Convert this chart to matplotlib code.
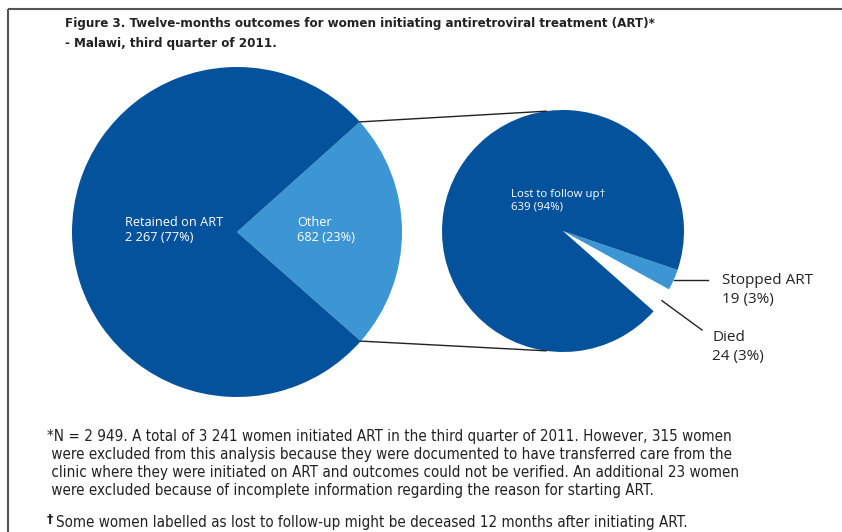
import numpy as np
import matplotlib.pyplot as plt
from matplotlib import font_manager

# data
main_labels = ["Other", "Retained on ART"]
main_values = [682, 2267]
main_text = ["Other\n682 (23%)", "Retained on ART\n2 267 (77%)"]

sub_labels = ["Died", "Stopped ART", "Lost to follow up"]
sub_values = [24, 19, 639]
sub_text = ["Died\n24 (3%)", "Stopped ART\n19 (3%)", "Lost to follow up\u2020\n639 (94%)"]

title = ["Figure 3. Twelve-months outcomes for women initiating antiretroviral treatment (ART)*",
         "- Malawi, third quarter of 2011."]
notes = ["*N = 2 949. A total of 3 241 women initiated ART in the third quarter of 2011. However, 315 women",
         " were excluded from this analysis because they were documented to have transferred care from the",
         " clinic where they were initiated on ART and outcomes could not be verified. An additional 23 women",
         " were excluded because of incomplete information regarding the reason for starting ART."]
dagger_note = "Some women labelled as lost to follow-up might be deceased 12 months after initiating ART."

dark = "#04529b"
light = "#3b96d3"

names = {f.name for f in font_manager.fontManager.ttflist}
narrow = "Liberation Sans Narrow" if "Liberation Sans Narrow" in names else "DejaVu Sans"
plain = "Open Sans" if "Open Sans" in names else "DejaVu Sans"

W, H = 842, 532
fig = plt.figure(figsize=(W / 100, H / 100), dpi=100)
ax = fig.add_axes([0, 0, 1, 1])
renderer = fig.canvas.get_renderer()


def fit(t, width):
    # shrink/grow a text so that it spans the given pixel width
    w = t.get_window_extent(renderer).width
    t.set_fontsize(t.get_fontsize() * width / w)


# left pie (pixel coords, y up)
c1 = (237, H - 232)
r1 = 165
w1, _ = ax.pie(main_values, colors=[light, dark], startangle=-41.4,
               center=c1, radius=r1, wedgeprops=dict(linewidth=0))

# right pie
c2 = (563, H - 231)
r2 = 121
w2, _ = ax.pie(sub_values, colors=["white", light, dark], startangle=-41.5,
               center=c2, radius=r2, wedgeprops=dict(linewidth=0))

ax.set_xlim(0, W)
ax.set_ylim(0, H)
ax.set_aspect("equal")
ax.axis("off")

# connecting lines from the "Other" wedge to the second pie
for th1, th2 in [(w1[0].theta2, 98), (w1[0].theta1, -98)]:
    x0 = c1[0] + r1 * np.cos(np.radians(th1))
    y0 = c1[1] + r1 * np.sin(np.radians(th1))
    x1 = c2[0] + r2 * np.cos(np.radians(th2))
    y1 = c2[1] + r2 * np.sin(np.radians(th2))
    ax.plot([x0, x1], [y0, y1], color="#222222", lw=1)

# labels inside pies
ax.text(125, H - 230, main_text[1], color="white", fontsize=9.2, family=plain,
        va="center", ha="left", linespacing=1.25)
ax.text(297, H - 230, main_text[0], color="white", fontsize=9.2, family=plain,
        va="center", ha="left", linespacing=1.25)
ax.text(511, H - 201, sub_text[2], color="white", fontsize=8.2, family=plain,
        va="center", ha="left", linespacing=1.2)


# leader lines for small slices
def edge(w, r=r2, c=c2):
    m = np.radians((w.theta1 + w.theta2) / 2)
    return c[0] + r * np.cos(m), c[1] + r * np.sin(m)


sx, sy = edge(w2[1])
ax.plot([sx, 708], [sy, sy], color="#222222", lw=1)
ax.text(722, H - 290, sub_text[1], color="#222222", fontsize=11, family=plain,
        va="center", ha="left", linespacing=1.35)

dx, dy = edge(w2[0])
ax.plot([dx, 702], [dy, H - 330], color="#222222", lw=1)
ax.text(712, H - 347, sub_text[0], color="#222222", fontsize=11, family=plain,
        va="center", ha="left", linespacing=1.35)

# title
t = ax.text(65, H - 23, title[0], fontsize=10.5, fontweight="bold", family=narrow,
            fontstretch="condensed", va="center", color="#222222")
fit(t, 595)
ax.text(65, H - 43, title[1], fontsize=t.get_fontsize(), fontweight="bold", family=narrow,
        fontstretch="condensed", va="center", color="#222222")

# footnotes
t = ax.text(47, H - 437, notes[0], fontsize=11.5, family=narrow, fontstretch="condensed",
            va="center", color="#222222")
fit(t, 685)
fs = t.get_fontsize()
for i, line in enumerate(notes[1:], start=1):
    ax.text(47, H - (437 + 18 * i), line, fontsize=fs, family=narrow,
            fontstretch="condensed", va="center", color="#222222")
ax.text(47, H - 519, "\u2020", fontsize=9, family="DejaVu Sans", va="center", color="#222222",
        fontweight="bold")
ax.text(56, H - 523, dagger_note, fontsize=fs, family=narrow, fontstretch="condensed",
        va="center", color="#222222")

# frame
ax.plot([8, 8], [0, H - 9], color="#555555", lw=1.5, solid_capstyle="butt")
ax.plot([8, W], [H - 9, H - 9], color="#555555", lw=1.5, solid_capstyle="butt")

fig.savefig("out.png", dpi=100)
